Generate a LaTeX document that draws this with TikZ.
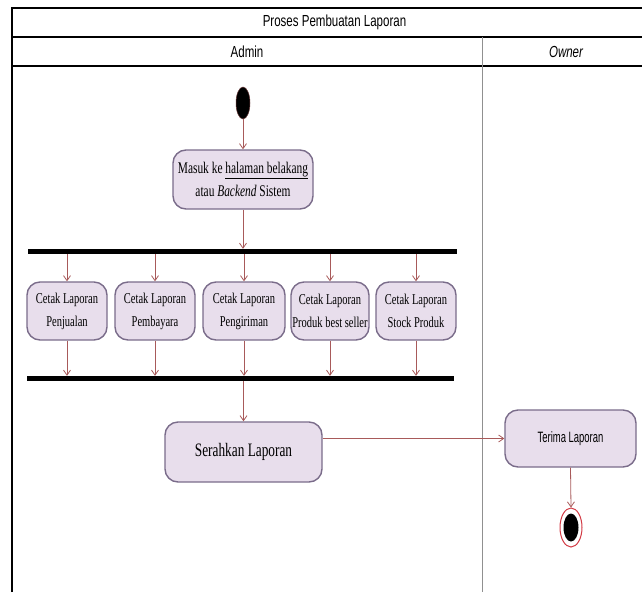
\documentclass[tikz,border=0pt]{standalone}
\usepackage{fontspec}
\setmainfont{Liberation Serif}
\newfontfamily\hdrfont[FakeStretch=0.72]{Liberation Sans}
\newfontfamily\tersans[FakeStretch=0.63]{Liberation Sans}
\newfontfamily\boxfont[FakeStretch=0.7]{Liberation Serif}
\usetikzlibrary{arrows.meta,shapes.geometric}
\definecolor{actfill}{HTML}{E8DEEC}
\definecolor{actdraw}{HTML}{7A6C8A}
\definecolor{flow}{HTML}{A85A5A}
\definecolor{endred}{HTML}{D23A44}
\definecolor{lanegray}{HTML}{909090}
\tikzset{
  act/.style={draw=actdraw, fill=actfill, rounded corners=13pt, line width=1.4pt,
    align=center, inner sep=0pt, font=\boxfont\fontsize{15}{23}\selectfont},
  flowarrow/.style={draw=flow, line width=0.8pt, -{Straight Barb[length=5pt,width=7pt]}},
  bar/.style={fill=black, inner sep=0pt, minimum height=5pt},
  hdr/.style={font=\hdrfont\fontsize{16}{18}\selectfont},
}
\begin{document}
\begin{tikzpicture}[x=1pt,y=-1pt]
\useasboundingbox (0,0) rectangle (642,592);
% frame
\draw[line width=1.4pt] (12,592) -- (12,8) -- (642,8);
\draw[line width=1.2pt] (12,37) -- (642,37);
\draw[line width=1.2pt] (12,66) -- (642,66);
\draw[lanegray, line width=1pt] (482,37) -- (482,592);
\node[hdr] (title) at (334.5,22) {Proses Pembuatan Laporan};
\node[hdr] (admin) at (247,51.5) {Admin};
\node[hdr] (owner) at (566,51.5) {\itshape Owner};
% start
\node[ellipse, fill=black, draw=flow!60!black, line width=0.5pt, minimum width=14pt, minimum height=32pt, inner sep=0pt] (start) at (243,103) {};
\node[act, minimum width=140pt, minimum height=59pt, font=\boxfont\fontsize{16.3}{23}\selectfont] (masuk) at (243,179.5) {Masuk ke \underline{halaman belakang}\\atau \textit{Backend} Sistem};
% fork / join bars
\node[bar, minimum width=429pt] (fork) at (242.5,251.5) {};
\node[bar, minimum width=427pt] (join) at (240.5,378.5) {};
% parallel activities
\node[act, minimum width=80pt, minimum height=58pt] (b1) at (67,311) {Cetak Laporan\\Penjualan};
\node[act, minimum width=80pt, minimum height=58pt] (b2) at (155,311) {Cetak Laporan\\Pembayara};
\node[act, minimum width=82pt, minimum height=58pt] (b3) at (244,311) {Cetak Laporan\\Pengiriman};
\node[act, minimum width=78pt, minimum height=58pt] (b4) at (330,311) {Cetak Laporan\\Produk best seller};
\node[act, minimum width=80pt, minimum height=58pt] (b5) at (416,311) {Cetak Laporan\\Stock Produk};
% later activities
\node[act, minimum width=157pt, minimum height=60pt, font=\boxfont\fontsize{19}{22}\selectfont] (ser) at (243.5,452) {Serahkan Laporan};
\node[act, minimum width=131pt, minimum height=57pt, font=\tersans\fontsize{15}{17}\selectfont] (ter) at (570.5,438.5) {Terima Laporan};
% end
\node[ellipse, draw=endred, fill=white, line width=1pt, minimum width=22pt, minimum height=39pt, inner sep=0pt] (endo) at (571,527.5) {};
\node[ellipse, fill=black, minimum width=15pt, minimum height=28pt, inner sep=0pt] (endi) at (endo.center) {};
% flows
\draw[flowarrow] (start.south) -- (masuk.north);
\draw[flowarrow] (masuk.south) -- (masuk.south |- fork.north);
\foreach \b in {b1,b2,b3,b4,b5}{
  \draw[flowarrow] (fork.south -| \b.north) -- (\b.north);
  \draw[flowarrow] (\b.south) -- (\b.south |- join.north);
}
\draw[flowarrow] (join.south -| ser.north) -- (ser.north);
\draw[flowarrow] (ser.east |- ter.west) -- (ter.west);
\draw[flowarrow] (ter.south) -- (endo.north);
\end{tikzpicture}
\end{document}
